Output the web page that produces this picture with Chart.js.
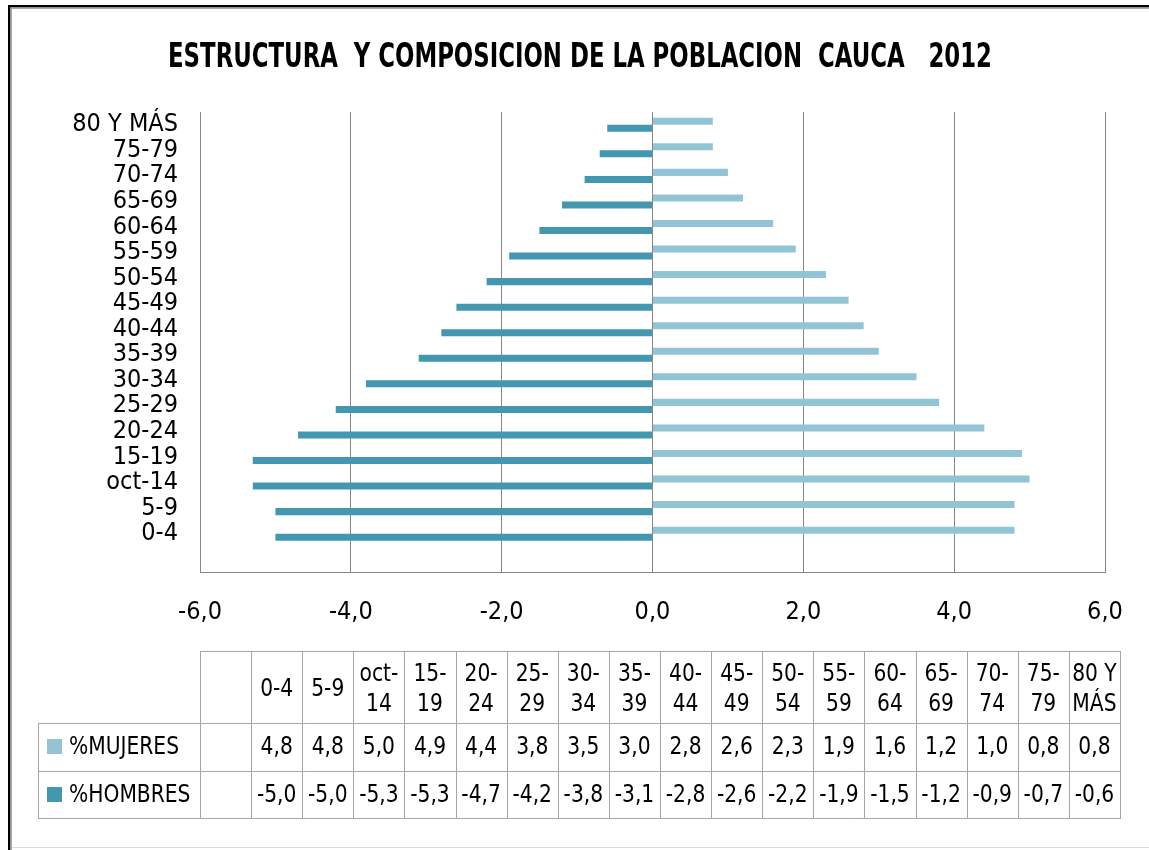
<!DOCTYPE html>
<html><head><meta charset="utf-8">
<script src="https://cdn.jsdelivr.net/npm/chart.js@4.4.1/dist/chart.umd.min.js"></script>
<style>html,body{margin:0;padding:0;background:#fff;}canvas{display:block;}</style>
</head><body>
<canvas id="c" width="1149" height="850"></canvas>
<script>
const TITLE = "ESTRUCTURA  Y COMPOSICION DE LA POBLACION  CAUCA   2012";
// first category is blank in the source sheet (blank column in the data table)
const categories = ["", "0-4","5-9","oct-14","15-19","20-24","25-29","30-34","35-39","40-44","45-49","50-54","55-59","60-64","65-69","70-74","75-79","80 Y MÁS"];
const mujeres = [null, 4.8,4.8,5.0,4.9,4.4,3.8,3.5,3.0,2.8,2.6,2.3,1.9,1.6,1.2,1.0,0.8,0.8];
const hombres = [null, -5.0,-5.0,-5.3,-5.3,-4.7,-4.2,-3.8,-3.1,-2.8,-2.6,-2.2,-1.9,-1.5,-1.2,-0.9,-0.7,-0.6];
const xTicks = [-6,-4,-2,0,2,4,6];
const seriesNames = ["%MUJERES","%HOMBRES"];

const C_LIGHT = '#93C4D6', C_DARK = '#4397AF';
const FONT = "'Liberation Sans Narrow','Arial Narrow','DejaVu Sans Condensed',sans-serif";
const fmt = v => v.toFixed(1).replace('.', ',');

// top-to-bottom order for the chart
const labelsTD = [...categories].reverse();
const mujTD = [...mujeres].reverse();
const homTD = [...hombres].reverse();

const SX = 0.9; // horizontal squeeze for table text
function drawSq(ctx, text, x, y, sx) {
  ctx.save(); ctx.translate(x, y); ctx.scale(sx, 1); ctx.fillText(text, 0, 0); ctx.restore();
}

const framePlugin = {
  id: 'frame',
  beforeDraw(chart) {
    const ctx = chart.ctx;
    ctx.save();
    ctx.fillStyle = '#fff'; ctx.fillRect(0,0,chart.width,chart.height);
    ctx.fillStyle = '#000';
    ctx.fillRect(8,5,chart.width-8,2.5);
    ctx.fillRect(8,5,2.5,chart.height-5);
    ctx.fillStyle = '#A8A8A8';
    ctx.fillRect(10.5,7.5,chart.width-10.5,1.5);
    ctx.fillRect(10.5,7.5,1.5,chart.height-7.5);
    ctx.fillStyle = '#DCDCDC';
    ctx.fillRect(12,847,chart.width-12,1);
    ctx.restore();
  },
  afterDraw(chart) {
    const ctx = chart.ctx;
    ctx.save();
    // title, squeezed to the reference width
    ctx.fillStyle = '#000';
    ctx.font = "bold 34px " + FONT;
    ctx.textAlign = 'center'; ctx.textBaseline = 'alphabetic';
    const tw = ctx.measureText(TITLE).width;
    drawSq(ctx, TITLE, 580, 67, Math.min(1, 824 / tw));

    // data table
    const xL = 38, xB = 200, xR = 1120;
    const yT = 651, y1 = 723, y2 = 771, yB = 818;
    const n = categories.length;
    const cw = (xR - xB) / n;
    ctx.strokeStyle = '#A6A6A6'; ctx.lineWidth = 1;
    const line = (ax,ay,bx,by) => { ctx.beginPath(); ctx.moveTo(ax,ay); ctx.lineTo(bx,by); ctx.stroke(); };
    line(xB, yT+0.5, xR, yT+0.5);
    line(xL, y1+0.5, xR, y1+0.5);
    line(xL, y2+0.5, xR, y2+0.5);
    line(xL, yB+0.5, xR, yB+0.5);
    line(xL+0.5, y1, xL+0.5, yB+1);
    for (let i = 0; i <= n; i++) {
      const x = Math.round(xB + i*cw) + 0.5;
      line(x, yT, x, yB+1);
    }
    ctx.font = "25px " + FONT;
    ctx.fillStyle = '#000';
    ctx.textAlign = 'center'; ctx.textBaseline = 'middle';
    const wrap = (text, maxW) => {
      const parts = []; let cur = '';
      for (const ch of text) { cur += ch; if (ch === '-' || ch === ' ') { parts.push(cur); cur = ''; } }
      if (cur) parts.push(cur);
      const lines = []; let ln = '';
      for (const p of parts) {
        if (ln && ctx.measureText((ln + p).trimEnd()).width * SX > maxW) { lines.push(ln.trimEnd()); ln = p; }
        else ln += p;
      }
      if (ln) lines.push(ln.trimEnd());
      return lines;
    };
    categories.forEach((cat, i) => {
      const cx = xB + (i + 0.5) * cw;
      if (cat) {
        const lines = wrap(cat, cw - 4);
        if (lines.length === 1) drawSq(ctx, lines[0], cx, 689, SX);
        else lines.forEach((t, k) => drawSq(ctx, t, cx, 674 + k*30, SX));
      }
      if (mujeres[i] != null) drawSq(ctx, fmt(mujeres[i]), cx, 747, SX);
      if (hombres[i] != null) drawSq(ctx, fmt(hombres[i]), cx, 795, SX);
    });
    // legend keys
    const rowsY = [747, 795], cols = [C_LIGHT, C_DARK];
    ctx.textAlign = 'left';
    seriesNames.forEach((s, k) => {
      ctx.fillStyle = cols[k];
      ctx.fillRect(47, rowsY[k] - 8, 15, 15);
      ctx.fillStyle = '#000';
      drawSq(ctx, s, 69, rowsY[k], SX);
    });
    ctx.restore();
  }
};

new Chart(document.getElementById('c'), {
  type: 'bar',
  data: {
    labels: labelsTD,
    datasets: [
      { label: seriesNames[0], data: mujTD, backgroundColor: C_LIGHT, borderWidth: 0 },
      { label: seriesNames[1], data: homTD, backgroundColor: C_DARK, borderWidth: 0 }
    ]
  },
  options: {
    indexAxis: 'y',
    responsive: false,
    devicePixelRatio: 1,
    animation: false,
    categoryPercentage: 0.55,
    barPercentage: 1.0,
    layout: { padding: { top: 112, right: 44, left: 0, bottom: 0 } },
    plugins: { legend: { display: false }, title: { display: false }, tooltip: { enabled: false } },
    scales: {
      x: {
        type: 'linear', min: -6, max: 6,
        afterBuildTicks: s => { s.ticks = xTicks.map(v => ({ value: v })); },
        ticks: { callback: v => fmt(v), font: { family: FONT, size: 25 }, color: '#000', padding: 25, maxRotation: 0 },
        grid: { color: '#878787', drawTicks: false, lineWidth: 1 },
        border: { display: true, color: '#878787' },
        afterFit: s => { s.height = 850 - 572; }
      },
      y: {
        type: 'category',
        grid: { display: false, drawTicks: false },
        border: { display: false },
        ticks: { font: { family: FONT, size: 25 }, color: '#000', padding: 22, autoSkip: false },
        afterFit: s => { s.width = 200; }
      }
    }
  },
  plugins: [framePlugin]
});
</script>
</body></html>
